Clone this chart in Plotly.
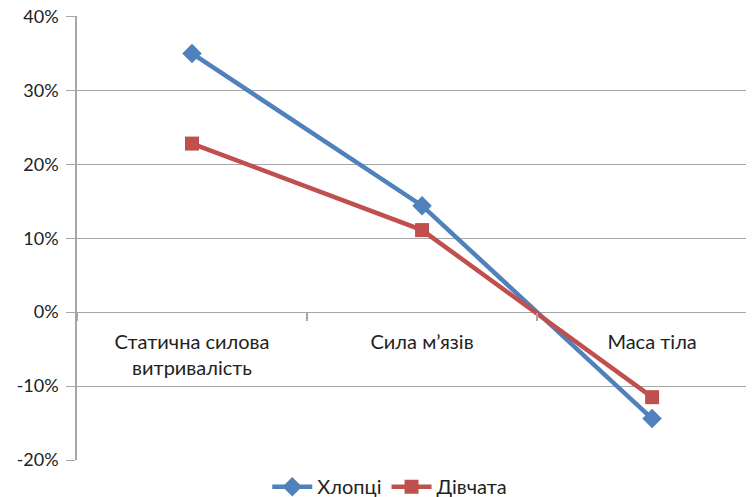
import plotly.graph_objects as go

categories = ["Статична силова<br>витривалість", "Сила м’язів", "Маса тіла"]
boys = [35.0, 14.4, -14.4]
girls = [22.8, 11.1, -11.5]
y_ticks = [-20, -10, 0, 10, 20, 30, 40]
y_tick_text = ["-20%", "-10%", "0%", "10%", "20%", "30%", "40%"]

FONT = "Lato, 'Open Sans', sans-serif"

fig = go.Figure()
fig.add_trace(go.Scatter(
    x=categories, y=boys, name="Хлопці", mode="lines+markers",
    line=dict(color="#4F81BD", width=4.5),
    marker=dict(symbol="diamond", size=15, color="#4F81BD"),
))
fig.add_trace(go.Scatter(
    x=categories, y=girls, name="Дівчата", mode="lines+markers",
    line=dict(color="#C0504D", width=4.5),
    marker=dict(symbol="square", size=14, color="#C0504D"),
))

fig.update_layout(
    width=746, height=489,
    margin=dict(l=69, r=0, t=8, b=37, autoexpand=False),
    paper_bgcolor="white", plot_bgcolor="white",
    font=dict(family=FONT, size=18, color="#222222"),
    showlegend=True,
    legend=dict(orientation="h", x=0.462, xanchor="center", y=-0.06, yanchor="middle",
                font=dict(size=20, color="#222222"), itemwidth=40, tracegroupgap=0,
                bgcolor="rgba(0,0,0,0)"),
    xaxis=dict(
        type="category", range=[-0.5, 2.443],
        anchor="free", position=1/3.001, automargin=False,
        showgrid=False, showline=False, zeroline=False,
        ticks="outside", ticklen=8, tickcolor="#A6A6A6", tickwidth=1.5,
        tickson="boundaries", ticklabelstandoff=16,
        tickfont=dict(size=20, color="#222222"),
    ),
    yaxis=dict(
        range=[-20, 40.06], tickvals=y_ticks, ticktext=y_tick_text,
        automargin=False, ticklabeloverflow="allow",
        showgrid=True, gridcolor="#A6A6A6", gridwidth=1.2,
        zeroline=False,
        showline=True, linecolor="#A6A6A6", linewidth=1.5,
        ticks="outside", ticklen=9, tickcolor="#A6A6A6",
        tickfont=dict(size=18, color="#222222"),
        ticklabelstandoff=4,
    ),
)

fig.write_html("out.html")
